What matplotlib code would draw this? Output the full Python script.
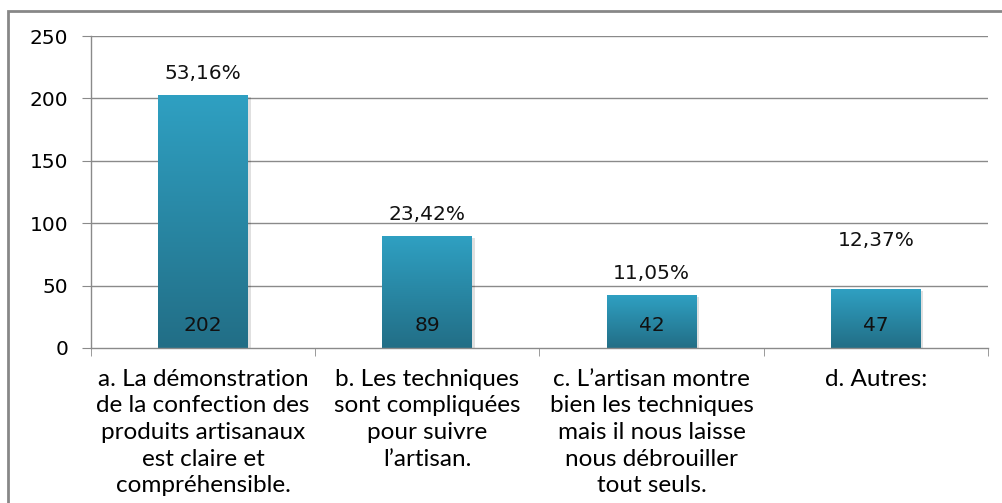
import numpy as np
import matplotlib.pyplot as plt
from matplotlib.colors import LinearSegmentedColormap
from matplotlib.patches import Rectangle

categories = [
    "a. La démonstration\nde la confection des\nproduits artisanaux\nest claire et\ncompréhensible.",
    "b. Les techniques\nsont compliquées\npour suivre\nl’artisan.",
    "c. L’artisan montre\nbien les techniques\nmais il nous laisse\nnous débrouiller\ntout seuls.",
    "d. Autres:",
]
counts = [202, 89, 42, 47]
yticks = [0, 50, 100, 150, 200, 250]

total = sum(counts)
pct_labels = [f"{c / total * 100:.2f}%".replace(".", ",") for c in counts]

plt.rcParams["font.family"] = ["DejaVu Sans"]

fig = plt.figure(figsize=(10.03, 5.03), dpi=100)
ax = fig.add_axes([0.0907, 0.3082, 0.8943, 0.6202])

# outer chart frame (runs off the right and bottom edges)
fig.patches.append(Rectangle((8 / 1003, -0.1), 1.2, 1 - 11 / 503 + 0.1,
                             transform=fig.transFigure, fill=False,
                             edgecolor="#878787", linewidth=2))

grid_col = "#8a8a8a"
for y in yticks[1:]:
    ax.axhline(y, color=grid_col, linewidth=1, zorder=0)

x = np.arange(len(counts))
width = 0.4
bars = ax.bar(x, counts, width=width, color="none", zorder=2)

cmap = LinearSegmentedColormap.from_list("bar", ["#226e86", "#2fa0c2"])
grad = np.linspace(0, 1, 256).reshape(-1, 1)
for b in bars:
    x0, y0 = b.get_x(), b.get_y()
    w, h = b.get_width(), b.get_height()
    # soft shadow
    ax.add_patch(Rectangle((x0 + 0.012, y0), w, h - 1.2, facecolor="#000000",
                           alpha=0.12, edgecolor="none", zorder=1.5))
    ax.imshow(grad, extent=[x0, x0 + w, y0, y0 + h], origin="lower",
              cmap=cmap, aspect="auto", zorder=2)

pct_offsets = [16, 16, 16, 35]
for xi, c, p, off in zip(x, counts, pct_labels, pct_offsets):
    ax.annotate(str(c), (xi, 0), xytext=(0, 16.5), textcoords="offset points",
                ha="center", va="center", fontsize=14.5, color="#111111", zorder=3)
    ax.annotate(p, (xi, c), xytext=(0, off), textcoords="offset points",
                ha="center", va="center", fontsize=14.5, color="#111111", zorder=3)

ax.set_xlim(-0.5, len(counts) - 0.5)
ax.set_ylim(0, 250)
ax.set_yticks(yticks)
ax.set_yticklabels([str(v) for v in yticks], fontsize=14.5)
ax.tick_params(axis="y", length=6.5, color=grid_col, pad=10)

ax.set_xticks(x)
ax.set_xticklabels(categories, fontsize=17.5, family=["Lato", "DejaVu Sans"],
                   linespacing=1.33)
ax.tick_params(axis="x", length=0, pad=15)
ax.set_xticks(np.arange(len(counts) + 1) - 0.5, minor=True)
ax.tick_params(axis="x", which="minor", length=6, color=grid_col, direction="out")

for s in ["top", "right"]:
    ax.spines[s].set_visible(False)
for s in ["left", "bottom"]:
    ax.spines[s].set_color(grid_col)
    ax.spines[s].set_linewidth(1)

fig.savefig("out.png", dpi=100)
